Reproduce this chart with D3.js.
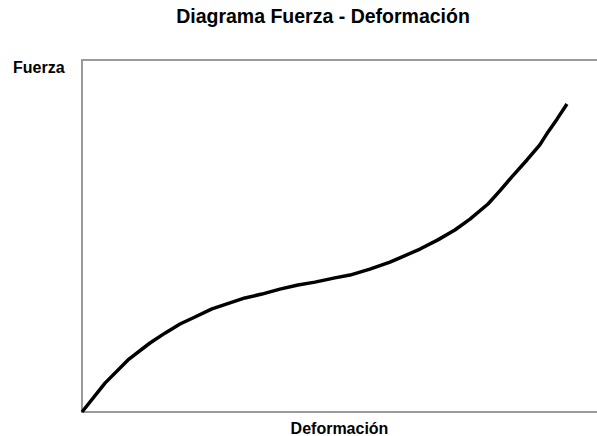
<!DOCTYPE html>
<html>
<head>
<meta charset="utf-8">
<script src="https://cdn.jsdelivr.net/npm/d3@7"></script>
<style>
  body { margin: 0; background: #fff; overflow: hidden; }
  svg { display: block; }
  text { font-family: "Liberation Sans", Arial, sans-serif; font-weight: bold; fill: #000; }
</style>
</head>
<body>
<div id="chart"></div>
<script>
// readings (no tick labels in the original)
var deformacion = [0, 1.34, 2.68, 3.96, 4.83, 5.71, 6.58, 7.57, 8.62, 9.49, 10.48, 11.53, 12.58, 13.57, 14.73, 15.61, 16.77, 17.94, 18.75, 19.69, 20.73, 21.72, 22.60, 23.65, 24.34, 25.04, 25.92, 26.67, 27.14, 27.67, 28.25];
var fuerza = [0, 82, 148, 196, 224, 250, 270, 293, 310, 324, 335, 349, 361, 369, 381, 389, 406, 426, 443, 463, 489, 517, 548, 591, 628, 668, 716, 759, 795, 832, 875];

var width = 597;
var height = 436;

var svg = d3.select("#chart").append("svg").attr("width", width).attr("height", height);

var plotLeft = 82, plotTop = 60, plotBottom = 412, plotRight = 597;

var xscale = d3.scaleLinear().domain([0, 30]).range([plotLeft, plotRight]);
var yscale = d3.scaleLinear().domain([0, 1000]).range([plotBottom, plotTop]);

// plot area frame
svg.append("rect")
  .attr("x", plotLeft).attr("y", plotTop)
  .attr("width", plotRight + 10 - plotLeft).attr("height", plotBottom - plotTop)
  .attr("fill", "none").attr("stroke", "#9a9a9a").attr("stroke-width", 2);

var data = deformacion.map(function(d, i) { return [d, fuerza[i]]; });

var line = d3.line()
  .x(function(a) { return xscale(a[0]); })
  .y(function(a) { return yscale(a[1]); });

svg.append("path").datum(data)
  .attr("d", line)
  .attr("fill", "none")
  .attr("stroke", "#000")
  .attr("stroke-width", 3.5)
  .attr("stroke-linejoin", "round");

svg.append("text").attr("x", 323).attr("y", 23).attr("text-anchor", "middle")
  .attr("font-size", 19.5).text("Diagrama Fuerza - Deformación");

svg.append("text").attr("x", 13).attr("y", 73).attr("font-size", 16).text("Fuerza");

svg.append("text").attr("x", (plotLeft + plotRight) / 2).attr("y", 434).attr("text-anchor", "middle")
  .attr("font-size", 16).text("Deformación");
</script>
</body>
</html>
